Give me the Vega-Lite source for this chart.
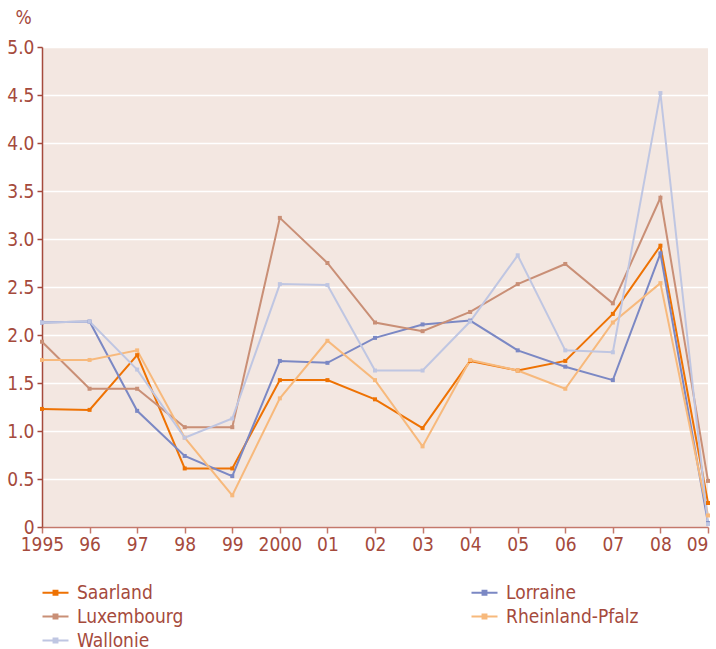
{
  "$schema": "https://vega.github.io/schema/vega-lite/v6.json",
  "autosize": {"type": "none"},
  "padding": {"left": 42, "top": 47, "right": 8, "bottom": 122},
  "width": 666,
  "height": 480,
  "background": "white",
  "config": {
    "font": "DejaVu Sans Condensed",
    "view": {"fill": "#f3e7e1", "stroke": null},
    "axis": {"labelFont": "DejaVu Sans Condensed", "labelColor": "#a54a3c", "labelFontSize": 19, "titleFont": "DejaVu Sans Condensed"}
  },
  "data": {"values": [
    {"region":"Saarland","year":1995,"value":1.23},{"region":"Saarland","year":1996,"value":1.22},{"region":"Saarland","year":1997,"value":1.79},{"region":"Saarland","year":1998,"value":0.61},{"region":"Saarland","year":1999,"value":0.61},{"region":"Saarland","year":2000,"value":1.53},{"region":"Saarland","year":2001,"value":1.53},{"region":"Saarland","year":2002,"value":1.33},{"region":"Saarland","year":2003,"value":1.03},{"region":"Saarland","year":2004,"value":1.73},{"region":"Saarland","year":2005,"value":1.63},{"region":"Saarland","year":2006,"value":1.73},{"region":"Saarland","year":2007,"value":2.22},{"region":"Saarland","year":2008,"value":2.93},{"region":"Saarland","year":2009,"value":0.25},
    {"region":"Lorraine","year":1995,"value":2.13},{"region":"Lorraine","year":1996,"value":2.14},{"region":"Lorraine","year":1997,"value":1.21},{"region":"Lorraine","year":1998,"value":0.74},{"region":"Lorraine","year":1999,"value":0.53},{"region":"Lorraine","year":2000,"value":1.73},{"region":"Lorraine","year":2001,"value":1.71},{"region":"Lorraine","year":2002,"value":1.97},{"region":"Lorraine","year":2003,"value":2.11},{"region":"Lorraine","year":2004,"value":2.15},{"region":"Lorraine","year":2005,"value":1.84},{"region":"Lorraine","year":2006,"value":1.67},{"region":"Lorraine","year":2007,"value":1.53},{"region":"Lorraine","year":2008,"value":2.85},{"region":"Lorraine","year":2009,"value":0.04},
    {"region":"Luxembourg","year":1995,"value":1.93},{"region":"Luxembourg","year":1996,"value":1.44},{"region":"Luxembourg","year":1997,"value":1.44},{"region":"Luxembourg","year":1998,"value":1.04},{"region":"Luxembourg","year":1999,"value":1.04},{"region":"Luxembourg","year":2000,"value":3.22},{"region":"Luxembourg","year":2001,"value":2.75},{"region":"Luxembourg","year":2002,"value":2.13},{"region":"Luxembourg","year":2003,"value":2.04},{"region":"Luxembourg","year":2004,"value":2.24},{"region":"Luxembourg","year":2005,"value":2.53},{"region":"Luxembourg","year":2006,"value":2.74},{"region":"Luxembourg","year":2007,"value":2.33},{"region":"Luxembourg","year":2008,"value":3.43},{"region":"Luxembourg","year":2009,"value":0.48},
    {"region":"Rheinland-Pfalz","year":1995,"value":1.74},{"region":"Rheinland-Pfalz","year":1996,"value":1.74},{"region":"Rheinland-Pfalz","year":1997,"value":1.84},{"region":"Rheinland-Pfalz","year":1998,"value":0.93},{"region":"Rheinland-Pfalz","year":1999,"value":0.33},{"region":"Rheinland-Pfalz","year":2000,"value":1.34},{"region":"Rheinland-Pfalz","year":2001,"value":1.94},{"region":"Rheinland-Pfalz","year":2002,"value":1.53},{"region":"Rheinland-Pfalz","year":2003,"value":0.84},{"region":"Rheinland-Pfalz","year":2004,"value":1.74},{"region":"Rheinland-Pfalz","year":2005,"value":1.63},{"region":"Rheinland-Pfalz","year":2006,"value":1.44},{"region":"Rheinland-Pfalz","year":2007,"value":2.13},{"region":"Rheinland-Pfalz","year":2008,"value":2.54},{"region":"Rheinland-Pfalz","year":2009,"value":0.12},
    {"region":"Wallonie","year":1995,"value":2.13},{"region":"Wallonie","year":1996,"value":2.14},{"region":"Wallonie","year":1997,"value":1.64},{"region":"Wallonie","year":1998,"value":0.93},{"region":"Wallonie","year":1999,"value":1.13},{"region":"Wallonie","year":2000,"value":2.53},{"region":"Wallonie","year":2001,"value":2.52},{"region":"Wallonie","year":2002,"value":1.63},{"region":"Wallonie","year":2003,"value":1.63},{"region":"Wallonie","year":2004,"value":2.14},{"region":"Wallonie","year":2005,"value":2.83},{"region":"Wallonie","year":2006,"value":1.84},{"region":"Wallonie","year":2007,"value":1.82},{"region":"Wallonie","year":2008,"value":4.52},{"region":"Wallonie","year":2009,"value":0.03}
  ]},
  "mark": {"type": "line", "strokeWidth": 2, "point": {"shape": "square", "size": 16, "filled": true, "opacity": 1}},
  "encoding": {
    "x": {
      "field": "year", "type": "quantitative",
      "scale": {"domain": [1995, 2009], "nice": false, "zero": false},
      "axis": {
        "title": null, "grid": false,
        "values": [1995,1996,1997,1998,1999,2000,2001,2002,2003,2004,2005,2006,2007,2008,2009],
        "labelExpr": "datum.value == 1995 || datum.value == 2000 ? toString(datum.value) : slice(toString(datum.value), 2)",
        "domainColor": "#c4786b", "domainWidth": 1.5, "tickColor": "#c4786b", "tickSize": 6, "tickWidth": 1.5,
        "labelPadding": 2, "labelFlush": false,
        "labelAlign": {"condition": {"test": "datum.value == 2009", "value": "right"}, "value": "center"},
        "labelDx": {"condition": {"test": "datum.value == 2009", "value": 5}, "value": 0}
      }
    },
    "y": {
      "field": "value", "type": "quantitative",
      "scale": {"domain": [0, 5], "nice": false},
      "axis": {
        "title": "%", "titleAngle": 0, "titleColor": "#a54a3c", "titleFontSize": 19, "titleFontWeight": "normal",
        "titleAlign": "center", "titleBaseline": "alphabetic", "titleX": -19, "titleY": -24,
        "values": [0,0.5,1,1.5,2,2.5,3,3.5,4,4.5,5],
        "labelExpr": "datum.value == 0 ? '0' : format(datum.value, '.1f')",
        "grid": true, "gridColor": "#ffffff", "gridWidth": 1.5,
        "domainColor": "#a54a3c", "domainWidth": 1.5, "tickColor": "#a54a3c", "tickSize": 5, "tickWidth": 1.5,
        "labelPadding": 3
      }
    },
    "color": {
      "field": "region", "type": "nominal",
      "scale": {
        "domain": ["Saarland", "Lorraine", "Luxembourg", "Rheinland-Pfalz", "Wallonie"],
        "range": ["#ee7203", "#7b88c4", "#c98f76", "#f7b97c", "#bfc6e2"]
      },
      "legend": {
        "title": null, "orient": "none", "legendX": 4, "legendY": 536,
        "columns": 2, "direction": "horizontal", "columnPadding": 283, "rowPadding": 4,
        "symbolType": "M-2,0H2M-0.3,-0.3H0.3V0.3H-0.3Z", "symbolSize": 169, "symbolStrokeWidth": 2,
        "labelFont": "DejaVu Sans Condensed", "labelFontSize": 19, "labelColor": "#a54a3c", "labelOffset": 12
      }
    },
    "order": {"field": "year"}
  }
}
